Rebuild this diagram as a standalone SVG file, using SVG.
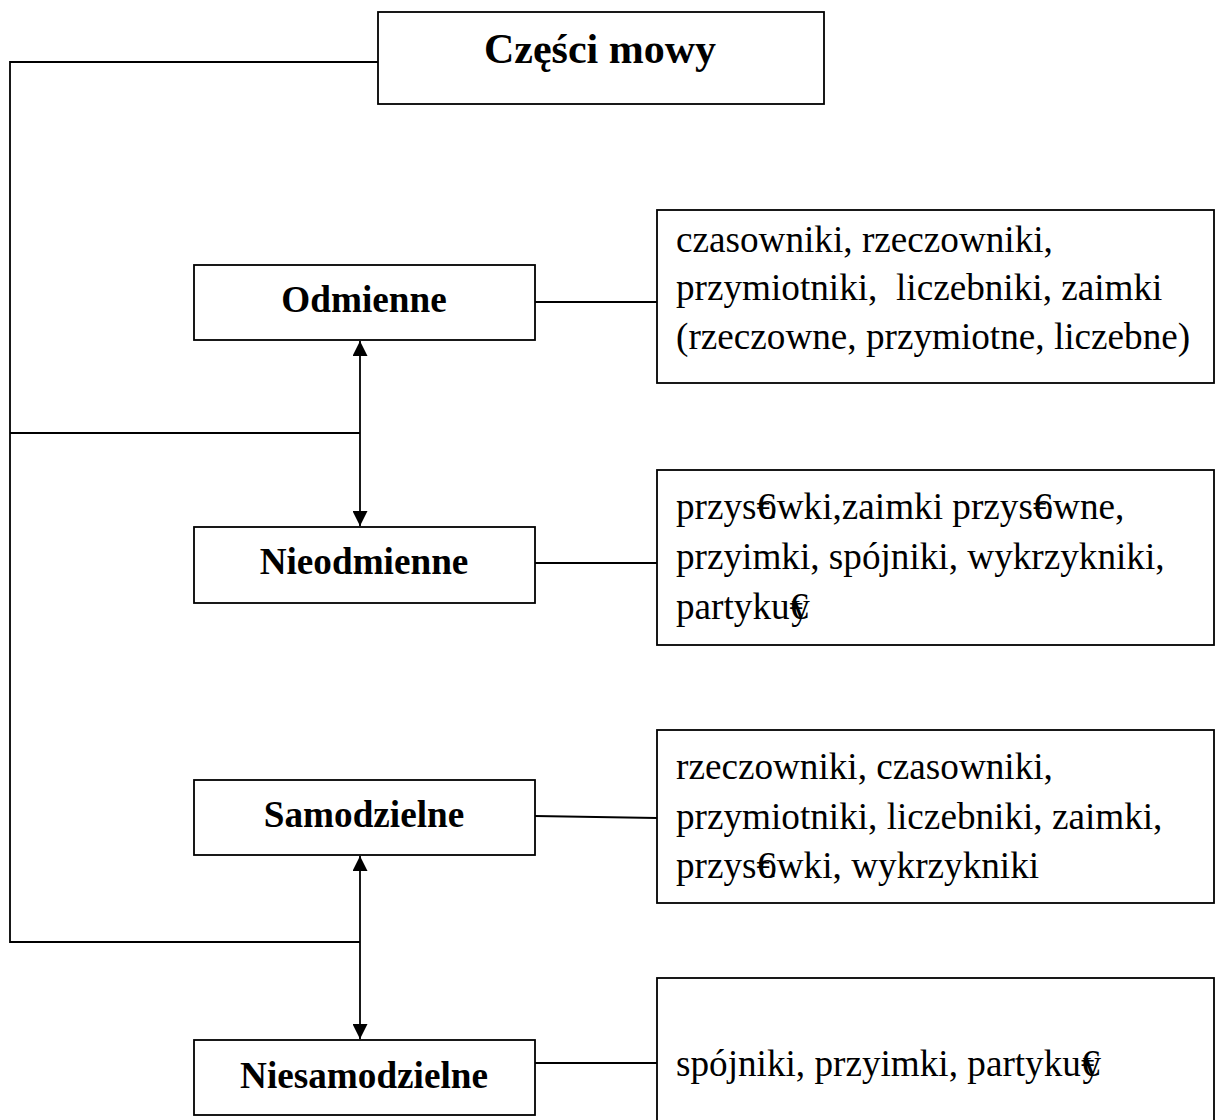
<svg xmlns="http://www.w3.org/2000/svg" width="1215" height="1120" viewBox="0 0 1215 1120">
<style>
.box{fill:#fff;stroke:#000;stroke-width:1.8}
.ln{fill:none;stroke:#000;stroke-width:1.8}
.lbl{font-family:"Liberation Serif","Times New Roman",serif;font-weight:bold;font-size:37.2px;text-anchor:middle;fill:#000}
.ttl{font-family:"Liberation Serif","Times New Roman",serif;font-weight:bold;font-size:42px;text-anchor:middle;fill:#000}
.txt{font-family:"Liberation Serif","Times New Roman",serif;font-size:37.2px;fill:#000}
.eu{letter-spacing:-17px}
</style>
<defs>
<marker id="ah" viewBox="0 0 10 10" refX="10" refY="5" markerWidth="15" markerHeight="15" markerUnits="userSpaceOnUse" orient="auto-start-reverse">
<path d="M0,0 L10,5 L0,10 z" fill="#000"/>
</marker>
</defs>
<rect width="1215" height="1120" fill="#fff"/>
<g id="connectors">
<polyline class="ln" points="378,62 10,62 10,942 360,942"/>
<line class="ln" x1="10" y1="433" x2="360" y2="433"/>
<line class="ln" x1="360" y1="341" x2="360" y2="526" marker-start="url(#ah)" marker-end="url(#ah)"/>
<line class="ln" x1="360" y1="856" x2="360" y2="1039" marker-start="url(#ah)" marker-end="url(#ah)"/>
<line class="ln" x1="535" y1="302" x2="657" y2="302"/>
<line class="ln" x1="535" y1="563" x2="657" y2="563"/>
<line class="ln" x1="535" y1="816" x2="657" y2="818"/>
<line class="ln" x1="535" y1="1063" x2="657" y2="1063"/>
</g>
<g id="czesci-mowy">
<rect class="box" x="378" y="12" width="446" height="92"/>
<text class="ttl" x="600" y="63">Części mowy</text>
</g>
<g id="odmienne">
<rect class="box" x="194" y="265" width="341" height="75"/>
<text class="lbl" x="364" y="312">Odmienne</text>
</g>
<g id="nieodmienne">
<rect class="box" x="194" y="527" width="341" height="76"/>
<text class="lbl" x="364" y="574">Nieodmienne</text>
</g>
<g id="samodzielne">
<rect class="box" x="194" y="780" width="341" height="75"/>
<text class="lbl" x="364" y="827">Samodzielne</text>
</g>
<g id="niesamodzielne">
<rect class="box" x="194" y="1040" width="341" height="75"/>
<text class="lbl" x="364" y="1088">Niesamodzielne</text>
</g>
<g id="lista-odmienne">
<rect class="box" x="657" y="210" width="557" height="173"/>
<text class="txt" x="676" y="252">czasowniki, rzeczowniki,</text>
<text class="txt" x="676" y="300" xml:space="preserve">przymiotniki,  liczebniki, zaimki</text>
<text class="txt" x="676" y="349">(rzeczowne, przymiotne, liczebne)</text>
</g>
<g id="lista-nieodmienne">
<rect class="box" x="657" y="470" width="557" height="175"/>
<text class="txt" x="676" y="519">przys<tspan class="eu">€</tspan>owki,zaimki przys<tspan class="eu">€</tspan>owne,</text>
<text class="txt" x="676" y="569">przyimki, spójniki, wykrzykniki,</text>
<text class="txt" x="676" y="619">partyku<tspan class="eu">€</tspan>y</text>
</g>
<g id="lista-samodzielne">
<rect class="box" x="657" y="730" width="557" height="173"/>
<text class="txt" x="676" y="779">rzeczowniki, czasowniki,</text>
<text class="txt" x="676" y="829">przymiotniki, liczebniki, zaimki,</text>
<text class="txt" x="676" y="878">przys<tspan class="eu">€</tspan>owki, wykrzykniki</text>
</g>
<g id="lista-niesamodzielne">
<rect class="box" x="657" y="978" width="557" height="160"/>
<text class="txt" x="676" y="1076">spójniki, przyimki, partyku<tspan class="eu">€</tspan>y</text>
</g>
</svg>
